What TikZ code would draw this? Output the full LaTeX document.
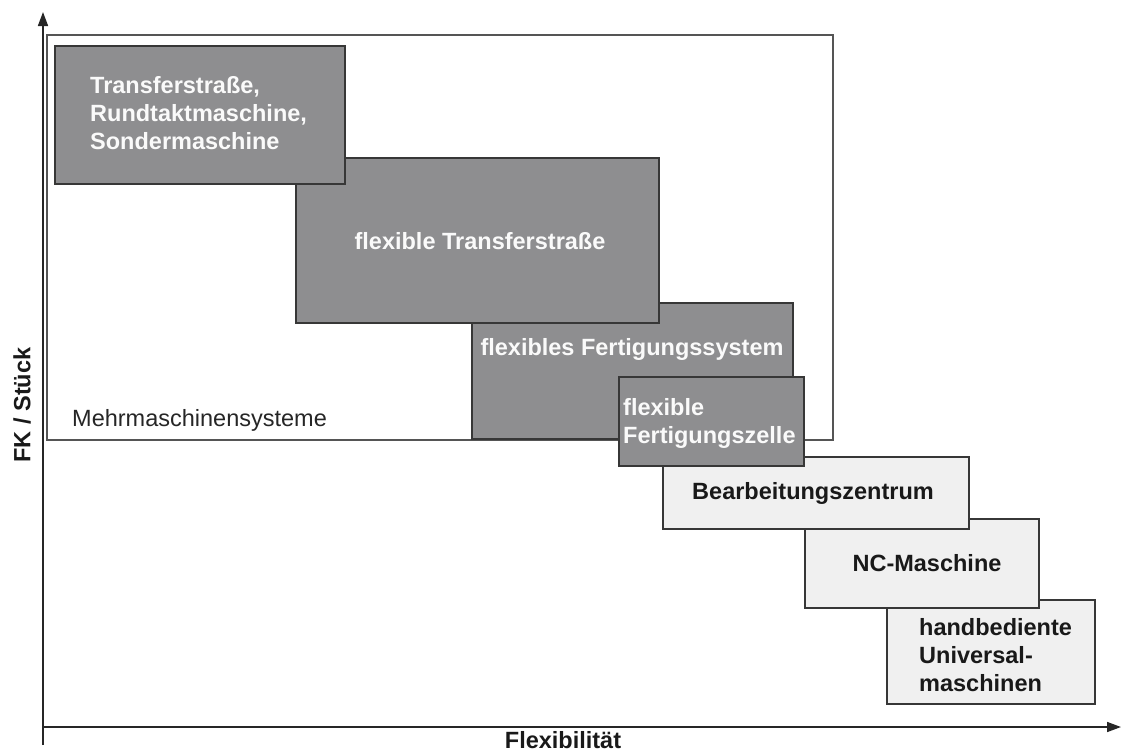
\documentclass[tikz,border=0pt]{standalone}
\usepackage{fontspec}
\setmainfont{Liberation Sans}
\usetikzlibrary{arrows.meta}
\definecolor{darkbox}{RGB}{142,142,144}
\definecolor{lightbox}{RGB}{240,240,240}
\definecolor{edge}{RGB}{55,55,55}
\definecolor{frame}{RGB}{85,85,85}
\tikzset{
  x=1pt, y=-1pt,
  dbox/.style={draw=edge, line width=1.4pt, fill=darkbox},
  lbox/.style={draw=edge, line width=1.4pt, fill=lightbox},
  wtxt/.style={text=white!96!gray, font=\fontsize{23.5}{28}\selectfont\bfseries, inner sep=0pt, align=left},
  btxt/.style={text=black!90, font=\fontsize{23.5}{28}\selectfont\bfseries, inner sep=0pt, align=left},
  axis/.style={line width=1.6pt, draw=black!85, -{Triangle[length=14pt,width=10pt]}},
}
\begin{document}
\begin{tikzpicture}
\useasboundingbox (0,0) rectangle (1121,753);
% frame Mehrmaschinensysteme
\draw[draw=frame, line width=1.2pt] (47,35) rectangle (833,440);
\node[anchor=base west, inner sep=0pt, font=\fontsize{23.5}{28}\selectfont, text=black!85] (mms) at (72,426) {Mehrmaschinensysteme};
% boxes (back to front)
\draw[lbox] (887,600) rectangle (1095,704);
\node[btxt, anchor=west] (t7) at (919,655) {handbediente\\Universal-\\maschinen};
\draw[lbox] (805,519) rectangle (1039,608);
\node[btxt] (t6) at (927,563) {NC-Maschine};
\draw[lbox] (663,457) rectangle (969,529);
\node[btxt] (t5) at (813,493) {Bearbeitungszentrum};
\draw[dbox] (472,303) rectangle (793,439);
\node[wtxt] (t3) at (632,349) {flexibles Fertigungssystem};
\draw[dbox] (619,377) rectangle (804,466);
\node[wtxt, anchor=west] (t4) at (623,423) {flexible\\Fertigungszelle};
\draw[dbox] (296,158) rectangle (659,323);
\node[wtxt] (t2) at (480,241) {flexible Transferstraße};
\draw[dbox] (55,46) rectangle (345,184);
\node[wtxt, anchor=west] (t1) at (90,113) {Transferstraße,\\Rundtaktmaschine,\\Sondermaschine};
% axes
\coordinate (o) at (43,727);
\coordinate (ytop) at (43,12);
\coordinate (xend) at (1121,727);
\coordinate (ybot) at (43,745);
\draw[axis] (ybot) -- (ytop);
\draw[axis] (o) -- (xend);
\node[btxt, anchor=base] (xl) at (563,748) {Flexibilität};
\node[btxt, rotate=90] (yl) at (22,405) {FK / Stück};
\end{tikzpicture}
\end{document}
